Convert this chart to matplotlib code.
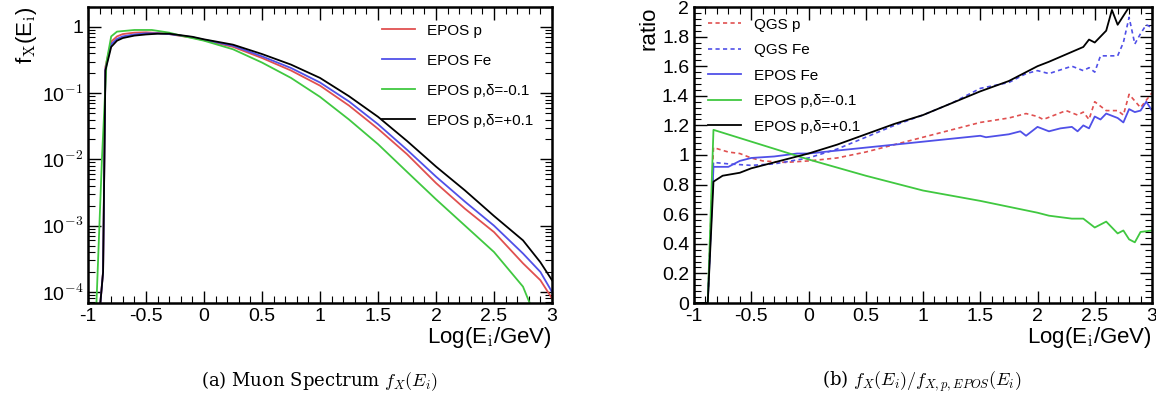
import matplotlib
matplotlib.use("Agg")
import matplotlib.pyplot as plt
from matplotlib.ticker import MultipleLocator, LogLocator, NullFormatter, FuncFormatter

plt.rcParams['font.family'] = ['Liberation Sans', 'DejaVu Sans']
plt.rcParams['mathtext.fontset'] = 'cm'

# ---- panel (a) spectra ----
xa_red = [-0.9, -0.87, -0.85, -0.8, -0.75, -0.7, -0.6, -0.5, -0.4, -0.3, -0.2, -0.1, 0, 0.25, 0.5, 0.75, 1, 1.25, 1.5, 1.75, 2, 2.25, 2.5, 2.75, 2.9, 3]
ya_red = [5e-5, 2e-4, 0.25, 0.6, 0.72, 0.78, 0.82, 0.83, 0.81, 0.78, 0.73, 0.69, 0.63, 0.5, 0.34, 0.22, 0.13, 0.065, 0.029, 0.012, 0.0044, 0.0018, 0.0008, 0.00027, 0.00015, 0.00008]
xa_fe = xa_red
ya_fe = [5e-5, 2e-4, 0.23, 0.55, 0.66, 0.72, 0.77, 0.8, 0.8, 0.78, 0.74, 0.7, 0.64, 0.52, 0.36, 0.24, 0.145, 0.075, 0.034, 0.014, 0.0055, 0.0023, 0.001, 0.00038, 0.0002, 0.0001]
xa_blk = xa_red
ya_blk = [5e-5, 2e-4, 0.22, 0.5, 0.62, 0.68, 0.74, 0.77, 0.79, 0.79, 0.75, 0.71, 0.65, 0.54, 0.39, 0.27, 0.17, 0.09, 0.044, 0.019, 0.0078, 0.0034, 0.0014, 0.0006, 0.00028, 0.00015]
xa_grn = [-0.93, -0.88, -0.84, -0.8, -0.75, -0.6, -0.45, -0.3, -0.2, 0, 0.25, 0.5, 0.75, 1, 1.25, 1.5, 1.75, 2, 2.25, 2.5, 2.75, 2.82]
ya_grn = [5e-5, 0.01, 0.3, 0.72, 0.85, 0.9, 0.9, 0.82, 0.74, 0.62, 0.46, 0.29, 0.17, 0.088, 0.04, 0.017, 0.0065, 0.0025, 0.001, 0.0004, 0.00012, 0.00006]

# ---- panel (b) ratios ----
xb_blk = [-1, -0.88, -0.83, -0.75, -0.6, -0.5, -0.3, -0.1, 0, 0.25, 0.5, 0.75, 1, 1.25, 1.5, 1.75, 2, 2.1, 2.25, 2.4, 2.45, 2.5, 2.55, 2.6, 2.65, 2.7, 2.8, 2.9]
yb_blk = [0, 0, 0.82, 0.86, 0.88, 0.91, 0.95, 0.99, 1.01, 1.07, 1.14, 1.21, 1.27, 1.35, 1.43, 1.5, 1.6, 1.63, 1.68, 1.73, 1.78, 1.76, 1.8, 1.84, 1.98, 1.88, 2.0, 2.1]
xb_qfe = [-1, -0.88, -0.83, -0.7, -0.5, -0.3, 0, 0.25, 0.5, 0.75, 1, 1.25, 1.5, 1.75, 1.9, 2, 2.1, 2.3, 2.4, 2.45, 2.5, 2.55, 2.7, 2.75, 2.8, 2.85, 2.9, 2.95, 3]
yb_qfe = [0, 0, 0.95, 0.94, 0.93, 0.94, 0.98, 1.04, 1.12, 1.2, 1.27, 1.35, 1.45, 1.49, 1.55, 1.57, 1.55, 1.6, 1.57, 1.59, 1.56, 1.67, 1.67, 1.76, 1.93, 1.75, 1.82, 1.88, 1.86]
xb_qp = [-1, -0.88, -0.83, -0.7, -0.6, -0.5, -0.4, -0.2, 0, 0.25, 0.5, 0.75, 1, 1.25, 1.5, 1.75, 1.9, 2, 2.05, 2.25, 2.35, 2.4, 2.45, 2.5, 2.6, 2.7, 2.75, 2.8, 2.9, 3]
yb_qp = [0, 0, 1.05, 1.02, 1.01, 0.98, 0.96, 0.95, 0.96, 0.98, 1.02, 1.07, 1.12, 1.17, 1.22, 1.25, 1.28, 1.26, 1.24, 1.3, 1.27, 1.29, 1.24, 1.36, 1.3, 1.3, 1.27, 1.41, 1.32, 1.42]
xb_efe = [-1, -0.88, -0.83, -0.7, -0.6, -0.5, -0.3, -0.1, 0, 0.25, 0.5, 0.75, 1, 1.25, 1.5, 1.55, 1.75, 1.85, 1.9, 2, 2.1, 2.2, 2.3, 2.35, 2.4, 2.45, 2.5, 2.55, 2.6, 2.7, 2.75, 2.8, 2.85, 2.9, 2.95, 3]
yb_efe = [0, 0, 0.92, 0.92, 0.96, 0.98, 0.99, 1.01, 1.01, 1.03, 1.05, 1.07, 1.09, 1.11, 1.13, 1.12, 1.14, 1.16, 1.13, 1.19, 1.16, 1.18, 1.19, 1.16, 1.2, 1.18, 1.26, 1.24, 1.28, 1.25, 1.22, 1.31, 1.29, 1.3, 1.36, 1.3]
xb_grn = [-1, -0.88, -0.83, 0, 0.5, 1, 1.5, 2, 2.1, 2.3, 2.4, 2.5, 2.6, 2.7, 2.75, 2.8, 2.85, 2.9, 3]
yb_grn = [0, 0, 1.17, 0.97, 0.86, 0.76, 0.69, 0.61, 0.59, 0.57, 0.57, 0.51, 0.55, 0.47, 0.49, 0.43, 0.41, 0.48, 0.49]

RED, BLUE, GREEN = '#e05050', '#5050e8', '#40c840'

W, H = 1156, 404
fig = plt.figure(figsize=(W/100, H/100), dpi=100)
ax1 = fig.add_axes([88/W, 1-303/H, 464/W, 296/H])
ax2 = fig.add_axes([694/W, 1-303/H, 458/W, 296/H])

lw = 1.3
ax1.plot(xa_red, ya_red, color=RED, lw=lw, label='EPOS p')
ax1.plot(xa_fe, ya_fe, color=BLUE, lw=lw, label='EPOS Fe')
ax1.plot(xa_grn, ya_grn, color=GREEN, lw=lw, label='EPOS p,δ=-0.1')
ax1.plot(xa_blk, ya_blk, color='black', lw=lw, label='EPOS p,δ=+0.1')
ax1.set_yscale('log')
ax1.set_ylim(6.8e-5, 2.0)
ax1.set_xlim(-1, 3)
ax1.yaxis.set_minor_locator(LogLocator(base=10, subs=range(2, 10), numticks=20))
ax1.yaxis.set_minor_formatter(NullFormatter())
ax1.set_yticks([1e-4, 1e-3, 1e-2, 1e-1, 1])
ax1.set_yticklabels(['10$^{-4}$', '10$^{-3}$', '10$^{-2}$', '10$^{-1}$', '1'])
ax1.legend(loc='upper right', frameon=False, fontsize=11, labelspacing=1.05, handlelength=2.2,
           bbox_to_anchor=(0.99, 0.99))
ax1.set_ylabel('f$_{\\rm X}$(E$_{\\rm i}$)', fontsize=16, loc='top', labelpad=2)
ax1.set_xlabel('Log(E$_{\\rm i}$/GeV)', fontsize=16, loc='right', labelpad=0)

ax2.plot(xb_qp, yb_qp, color=RED, lw=1.2, ls=(0, (2.5, 2)), label='QGS p')
ax2.plot(xb_qfe, yb_qfe, color=BLUE, lw=1.2, ls=(0, (2.5, 2)), label='QGS Fe')
ax2.plot(xb_efe, yb_efe, color=BLUE, lw=lw, label='EPOS Fe')
ax2.plot(xb_grn, yb_grn, color=GREEN, lw=lw, label='EPOS p,δ=-0.1')
ax2.plot(xb_blk, yb_blk, color='black', lw=lw, label='EPOS p,δ=+0.1')
ax2.set_xlim(-1, 3)
ax2.set_ylim(0, 2)
ax2.yaxis.set_major_locator(MultipleLocator(0.2))
ax2.yaxis.set_minor_locator(MultipleLocator(0.04))
ax2.yaxis.set_major_formatter(FuncFormatter(lambda v, p: f'{v:g}'))
ax2.legend(loc='upper left', frameon=False, fontsize=11, labelspacing=0.75, handlelength=2.2,
           bbox_to_anchor=(0.0, 1.01))
ax2.set_ylabel('ratio', fontsize=16, loc='top', labelpad=2)
ax2.set_xlabel('Log(E$_{\\rm i}$/GeV)', fontsize=16, loc='right', labelpad=0)

for ax in (ax1, ax2):
    ax.xaxis.set_major_locator(MultipleLocator(0.5))
    ax.xaxis.set_minor_locator(MultipleLocator(0.1))
    ax.xaxis.set_major_formatter(FuncFormatter(lambda v, p: f'{v:g}'))
    ax.tick_params(which='both', direction='in', top=True, right=True, labelsize=14)
    ax.tick_params(which='major', length=9, width=1)
    ax.tick_params(which='minor', length=5, width=0.8)
    for s in ax.spines.values():
        s.set_linewidth(1.8)

fig.text(320/W, 1-381/H, '(a) Muon Spectrum $f_X(E_i)$', ha='center', va='center',
         fontsize=13, family='DejaVu Serif')
fig.text(922/W, 1-381/H, '(b) $f_X(E_i)/f_{X,p,EPOS}(E_i)$', ha='center', va='center',
         fontsize=13, family='DejaVu Serif')

fig.savefig('out.png', dpi=100)
